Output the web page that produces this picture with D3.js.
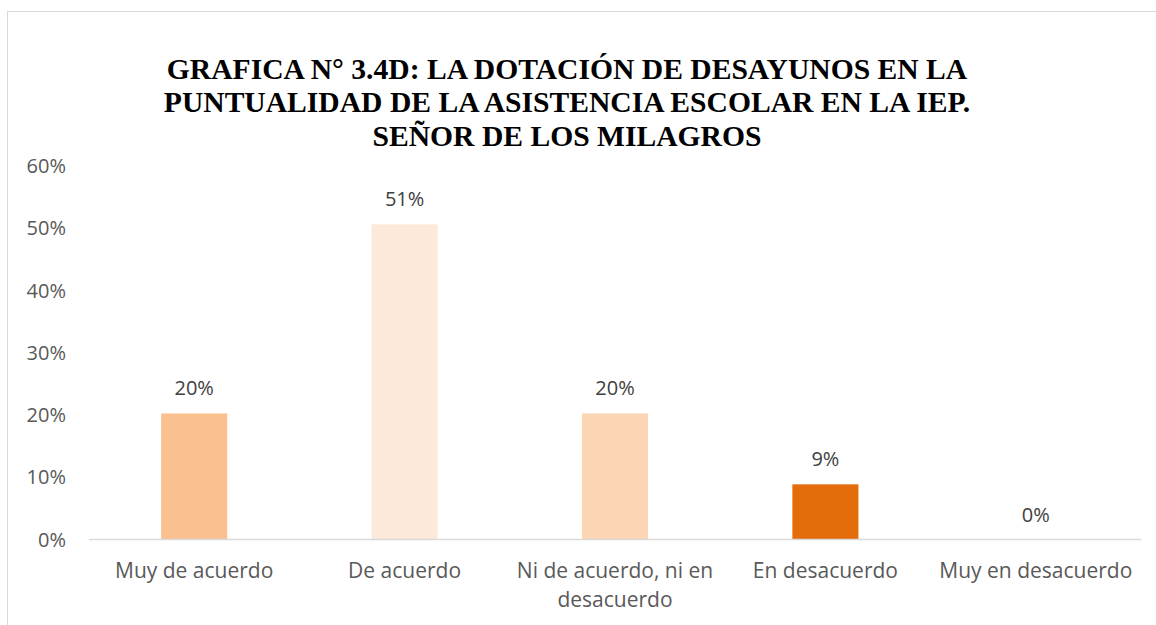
<!DOCTYPE html>
<html>
<head>
<meta charset="utf-8">
<script src="https://cdn.jsdelivr.net/npm/d3@7"></script>
<style>
  body { margin: 0; background: #fff; }
  svg { display: block; }
</style>
</head>
<body>
<svg id="chart"></svg>
<script>
// Datos de la gráfica
const categorias = [
    ["Muy de acuerdo"],
    ["De acuerdo"],
    ["Ni de acuerdo, ni en", "desacuerdo"],
    ["En desacuerdo"],
    ["Muy en desacuerdo"]
];
const valores = [0.2025, 0.5063, 0.2025, 0.0886, 0];
const etiquetas = ["20%", "51%", "20%", "9%", "0%"];
const colores = ["#FAC090", "#FDE9D9", "#FCD5B5", "#E46C0A", "#F79646"];
const ticksY = [0, 0.1, 0.2, 0.3, 0.4, 0.5, 0.6];
const titulo = [
    "GRAFICA N° 3.4D: LA DOTACIÓN DE DESAYUNOS EN LA",
    "PUNTUALIDAD DE LA ASISTENCIA ESCOLAR EN LA IEP.",
    "SEÑOR DE LOS MILAGROS"
];

const width = 1156;
const height = 625;
const margin = { top: 166, right: 15, bottom: 85.5, left: 89 };

const svg = d3.select("#chart")
    .attr("width", width)
    .attr("height", height);

// Borde del área del gráfico
svg.append("rect")
    .attr("x", 7.5)
    .attr("y", 11.5)
    .attr("width", width + 10)
    .attr("height", height + 10)
    .attr("fill", "none")
    .attr("stroke", "#D9D9D9")
    .attr("stroke-width", 1);

const x = d3.scaleBand()
    .domain(d3.range(categorias.length))
    .range([margin.left, width - margin.right])
    .paddingInner(0.686)
    .paddingOuter(0.343);

const y = d3.scaleLinear()
    .domain([0, 0.6])
    .range([height - margin.bottom, margin.top]);

// Título
svg.append("text")
    .attr("text-anchor", "middle")
    .attr("font-family", "'Liberation Serif', 'Times New Roman', serif")
    .attr("font-weight", "bold")
    .attr("font-size", 29.6)
    .attr("fill", "#000")
    .selectAll("tspan")
    .data(titulo)
    .enter().append("tspan")
    .attr("x", 567)
    .attr("y", (d, i) => 78.5 + i * 33.5)
    .text(d => d);

// Eje Y (solo etiquetas)
svg.append("g")
    .selectAll("text")
    .data(ticksY)
    .enter().append("text")
    .attr("x", 66)
    .attr("y", d => y(d))
    .attr("dy", "0.35em")
    .attr("text-anchor", "end")
    .attr("font-family", "'Open Sans', sans-serif")
    .attr("font-size", 20)
    .attr("fill", "#595959")
    .text(d => d3.format(".0%")(d));

// Barras
svg.append("g")
    .selectAll("rect")
    .data(valores)
    .enter().append("rect")
    .attr("x", (d, i) => x(i))
    .attr("y", d => y(d))
    .attr("width", x.bandwidth())
    .attr("height", d => y(0) - y(d))
    .attr("fill", (d, i) => colores[i]);

// Línea del eje X
svg.append("line")
    .attr("x1", margin.left)
    .attr("x2", width - margin.right)
    .attr("y1", y(0))
    .attr("y2", y(0))
    .attr("stroke", "#D9D9D9")
    .attr("stroke-width", 1.5);

// Etiquetas de datos
svg.append("g")
    .selectAll("text")
    .data(valores)
    .enter().append("text")
    .attr("x", (d, i) => x(i) + x.bandwidth() / 2)
    .attr("y", d => y(d) - 25)
    .attr("dy", "0.35em")
    .attr("text-anchor", "middle")
    .attr("font-family", "'Open Sans', sans-serif")
    .attr("font-size", 20)
    .attr("fill", "#404040")
    .text((d, i) => etiquetas[i]);

// Etiquetas de categorías
const cat = svg.append("g")
    .selectAll("text")
    .data(categorias)
    .enter().append("text")
    .attr("text-anchor", "middle")
    .attr("font-family", "'Open Sans', sans-serif")
    .attr("font-size", 21)
    .attr("fill", "#595959");

cat.selectAll("tspan")
    .data((d, i) => d.map(t => ({ t, i })))
    .enter().append("tspan")
    .attr("x", d => x(d.i) + x.bandwidth() / 2)
    .attr("y", (d, j) => 571 + j * 28.5)
    .attr("dy", "0.35em")
    .text(d => d.t);
</script>
</body>
</html>
